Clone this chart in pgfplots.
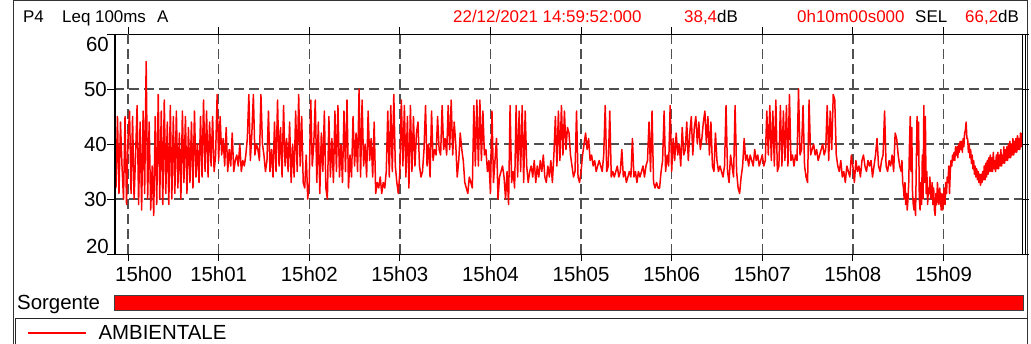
\documentclass[border=0pt]{standalone}
\usepackage{pgfplots}
\pgfplotsset{compat=1.18}
\usepackage{fontspec}
\setmainfont{Liberation Sans}
\definecolor{trace}{RGB}{255,0,0}
\definecolor{gridgray}{RGB}{80,80,80}
\newcommand{\hdr}{\fontsize{17}{20}\selectfont}
\newcommand{\lbl}{\fontsize{20.5}{24}\selectfont}
\begin{document}
\begin{tikzpicture}
\useasboundingbox (0,0) rectangle (1031bp,344bp);
% outer frame
\draw[line width=1bp, black!80] (13.5bp,-3bp) -- (13.5bp,343.5bp) -- (1027.5bp,343.5bp) -- (1027.5bp,-3bp);
% header line
\node[anchor=base west, inner sep=0] at (23bp,321bp) {\hdr P4};
\node[anchor=base west, inner sep=0] at (62bp,321bp) {\hdr Leq 100ms};
\node[anchor=base west, inner sep=0] at (157bp,321bp) {\hdr A};
\node[anchor=base west, inner sep=0, text=trace] at (453bp,321bp) {\hdr 22/12/2021 14:59:52:000};
\node[anchor=base west, inner sep=0] at (684bp,321bp) {\hdr\textcolor{trace}{38,4}dB};
\node[anchor=base west, inner sep=0, text=trace] at (797bp,321bp) {\hdr 0h10m00s000};
\node[anchor=base west, inner sep=0] at (915bp,321bp) {\hdr SEL};
\node[anchor=base west, inner sep=0] at (965bp,321bp) {\hdr\textcolor{trace}{66,2}dB};
\begin{axis}[
  at={(114bp,90bp)}, anchor=south west,
  scale only axis, width=908bp, height=220bp,
  xmin=-1.3, xmax=600, ymin=20, ymax=60,
  xtick={68,128,188,248,308,368,428,488,548},
  xticklabels={15h01,15h02,15h03,15h04,15h05,15h06,15h07,15h08,15h09},
  extra x ticks={8}, extra x tick labels={15h00},
  extra x tick style={grid=major, xticklabel style={xshift=15.5bp}},
  ytick={30,40,50},
  extra y ticks={20,60}, extra y tick labels={},
  extra y tick style={grid=none},
  grid=major,
  major grid style={gridgray, dash pattern=on 10bp off 5bp, line width=1.3bp},
  tick align=outside, major tick length=7bp,
  tick style={black, line width=1bp},
  axis line style={black, line width=1bp},
  tick label style={font=\lbl},
  xticklabel style={inner sep=0pt, anchor=base, yshift=-20bp},
  yticklabel style={inner sep=0pt},
  /pgf/number format/assume math mode=true,
  legend style={at={(-0.0958,-0.3591)}, anchor=west, draw=none, fill=none,
    inner sep=0pt, nodes={inner sep=0pt}, font=\lbl,
    /tikz/every odd column/.append style={column sep=12bp}},
  legend cell align=left,
  legend image code/.code={\draw[trace, line width=1.3bp] (0bp,0bp) -- (58bp,0bp);},
]
\addplot[trace, line width=1.5bp, line join=round] coordinates {
(0,32)(1,45)(2,31)(3,44)(4,36)(5,30)(6,45)(7,29)(8,41)(9,46)
(10,31)(11,45)(12,30)(13,38)(14,47)(15,29)(16,44)(17,28)(18,46)(19,31)
(20,55)(21,30)(22,44)(23,28)(24,36)(25,27)(26,45)(27,29)(28,49)(29,30)
(30,46)(31,29)(32,48)(33,31)(34,44)(35,29)(36,47)(37,30)(38,45)(39,31)
(40,46)(41,32)(42,42)(43,30)(44,46)(45,33)(46,45)(47,31)(48,43)(49,33)
(50,44)(51,32)(52,46)(53,34)(54,40)(55,33)(56,45)(57,34)(58,48)(59,35)
(60,46)(61,34)(62,44)(63,36)(64,45)(65,35)(66,38)(67,49)(68,37)(69,45)
(70,38)(71,41)(72,36)(73,43)(74,35)(75,39)(76,36)(77,42)(78,35)(79,37)
(80,38)(81,36)(82,40)(83,35)(84,37)(85,36)(86,38)(87,41)(88,49)(89,37)
(90,42)(91,49)(92,38)(93,40)(94,39)(95,37)(96,49)(97,40)(98,38)(99,35)
(100,37)(101,46)(102,35)(103,39)(104,34)(105,44)(106,35)(107,48)(108,36)(109,43)
(110,34)(111,47)(112,36)(113,41)(114,35)(115,44)(116,33)(117,40)(118,34)(119,46)
(120,35)(121,49)(122,36)(123,45)(124,33)(125,32)(126,38)(127,30)(128,33)(129,48)
(130,36)(131,40)(132,48)(133,33)(134,44)(135,31)(136,42)(137,35)(138,46)(139,32)
(140,30)(141,45)(142,34)(143,41)(144,33)(145,46)(146,35)(147,47)(148,34)(149,40)
(150,33)(151,46)(152,35)(153,48)(154,32)(155,38)(156,34)(157,45)(158,36)(159,42)
(160,35)(161,50)(162,34)(163,48)(164,36)(165,40)(166,34)(167,46)(168,37)(169,41)
(170,34)(171,44)(172,31)(173,33)(174,32)(175,34)(176,31)(177,33)(178,32)(179,35)
(180,46)(181,34)(182,47)(183,35)(184,49)(185,36)(186,33)(187,31)(188,35)(189,48)
(190,36)(191,47)(192,34)(193,45)(194,32)(195,47)(196,35)(197,45)(198,36)(199,42)
(200,44)(201,36)(202,34)(203,35)(204,39)(205,47)(206,36)(207,40)(208,34)(209,46)
(210,37)(211,39)(212,38)(213,45)(214,39)(215,38)(216,47)(217,39)(218,41)(219,38)
(220,47)(221,39)(222,48)(223,38)(224,44)(225,40)(226,34)(227,37)(228,42)(229,39)
(230,37)(231,33)(232,32)(233,31)(234,34)(235,33)(236,32)(237,47)(238,36)(239,48)
(240,36)(241,48)(242,37)(243,46)(244,38)(245,39)(246,35)(247,37)(248,31)(249,46)
(250,33)(251,37)(252,41)(253,30)(254,34)(255,35)(256,36)(257,34)(258,30)(259,35)
(260,29)(261,47)(262,33)(263,35)(264,32)(265,47)(266,34)(267,46)(268,35)(269,47)
(270,33)(271,46)(272,36)(273,33)(274,35)(275,36)(276,34)(277,37)(278,33)(279,36)
(280,34)(281,37)(282,35)(283,38)(284,34)(285,33)(286,36)(287,34)(288,37)(289,33)
(290,38)(291,45)(292,36)(293,46)(294,37)(295,47)(296,38)(297,46)(298,39)(299,43)
(300,42)(301,38)(302,36)(303,34)(304,35)(305,46)(306,34)(307,33)(308,35)(309,38)
(310,40)(311,42)(312,39)(313,41)(314,37)(315,38)(316,36)(317,37)(318,35)(319,36)
(320,37)(321,36)(322,35)(323,38)(324,47)(325,35)(326,36)(327,46)(328,34)(329,35)
(330,34)(331,35)(332,36)(333,34)(334,35)(335,39)(336,34)(337,35)(338,33)(339,34)
(340,35)(341,34)(342,41)(343,34)(344,35)(345,33)(346,35)(347,34)(348,35)(349,36)
(350,34)(351,36)(352,37)(353,44)(354,35)(355,46)(356,33)(357,32)(358,33)(359,32)
(360,32)(361,35)(362,37)(363,46)(364,35)(365,38)(366,36)(367,47)(368,35)(369,41)
(370,37)(371,42)(372,38)(373,40)(374,36)(375,43)(376,38)(377,39)(378,44)(379,37)
(380,42)(381,45)(382,38)(383,43)(384,45)(385,40)(386,44)(387,39)(388,41)(389,44)
(390,46)(391,40)(392,45)(393,38)(394,44)(395,36)(396,35)(397,42)(398,37)(399,35)
(400,36)(401,35)(402,34)(403,36)(404,47)(405,35)(406,33)(407,38)(408,36)(409,34)
(410,47)(411,35)(412,32)(413,31)(414,34)(415,36)(416,41)(417,37)(418,38)(419,36)
(420,38)(421,37)(422,36)(423,39)(424,37)(425,38)(426,36)(427,37)(428,38)(429,36)
(430,37)(431,46)(432,38)(433,47)(434,37)(435,46)(436,36)(437,48)(438,35)(439,36)
(440,47)(441,36)(442,46)(443,37)(444,47)(445,36)(446,49)(447,37)(448,38)(449,36)
(450,38)(451,37)(452,50)(453,38)(454,39)(455,47)(456,36)(457,34)(458,33)(459,48)
(460,38)(461,39)(462,40)(463,38)(464,39)(465,37)(466,38)(467,39)(468,40)(469,38)
(470,39)(471,47)(472,37)(473,46)(474,39)(475,49)(476,48)(477,38)(478,36)(479,35)
(480,37)(481,34)(482,35)(483,33)(484,36)(485,35)(486,34)(487,38)(488,36)(489,33)
(490,37)(491,35)(492,36)(493,34)(494,37)(495,38)(496,36)(497,35)(498,37)(499,36)
(500,37)(501,34)(502,36)(503,38)(504,41)(505,36)(506,35)(507,37)(508,38)(509,46)
(510,36)(511,35)(512,37)(513,36)(514,38)(515,35)(516,42)(517,41)(518,38)(519,36)
(520,35)(520.5,37)(521,33)(521.5,32)(522,30)(522.5,33)(523,29)(523.5,31)(524,28)(524.5,30)
(525,33)(525.5,40)(526,45)(526.5,35)(527,43)(527.5,31)(528,29)(528.5,28)(529,30)(529.5,27)
(530,36)(530.5,45)(531,38)(531.5,44)(532,30)(532.5,28)(533,33)(533.5,29)(534,38)(534.5,30)
(535,47)(535.5,33)(536,45)(536.5,31)(537,35)(537.5,29)(538,32)(538.5,31)(539,34)(539.5,30)
(540,31)(540.5,33)(541,29)(541.5,32)(542,28)(542.5,27)(543,31)(543.5,29)(544,33)(544.5,30)
(545,29)(545.5,32)(546,30)(546.5,28)(547,31)(547.5,28)(548,30)(548.5,32)(549,29)(549.5,33)
(550,31)(550.5,34)(551,33)(551.5,36)(552,31)(552.5,35)(553,37)(553.5,36)(554,38)(554.5,37)
(555,38.5)(555.5,37)(556,39.5)(556.5,38)(557,39.5)(557.5,37.5)(558,40)(558.5,38.5)(559,40.5)(559.5,39)
(560,40.5)(560.5,38.5)(561,41)(561.5,39.5)(562,42)(562.5,42.5)(563,44)(563.5,41)(564,41)(564.5,38.5)
(565,40)(565.5,37.5)(566,39)(566.5,36.5)(567,38)(567.5,35.5)(568,37)(568.5,34.5)(569,36)(569.5,34)
(570,35.5)(570.5,33.5)(571,35)(571.5,33)(572,34.5)(572.5,32.5)(573,34.5)(573.5,33)(574,35)(574.5,33.5)
(575,36)(575.5,33.5)(576,36.5)(576.5,34)(577,37)(577.5,34.5)(578,37.5)(578.5,35)(579,38)(579.5,35)
(580,37.5)(580.5,35)(581,38.5)(581.5,35.5)(582,37)(582.5,35)(583,38)(583.5,35.5)(584,38.5)(584.5,35.5)
(585,38)(585.5,36)(586,39)(586.5,36)(587,38)(587.5,36.5)(588,39.5)(588.5,36.5)(589,39)(589.5,37)
(590,39.5)(590.5,37)(591,40)(591.5,37.5)(592,40.5)(592.5,37.5)(593,40)(593.5,38)(594,41)(594.5,38)
(595,40.5)(595.5,38.5)(596,41)(596.5,38.5)(597,41.5)(597.5,39)(598,41)(598.5,39)(599,42)(599.5,39.5)
(600,42)
};
\addlegendentry{AMBIENTALE}
\end{axis}
% labels of the boundary ticks, kept inside the axis height
\node[anchor=south east, inner sep=0, font=\lbl] at (109bp,90bp) {20};
\node[anchor=north east, inner sep=0, font=\lbl] at (109bp,307bp) {60};
% cursor lines at both ends of the record
\draw[line width=2.5bp] (115bp,90bp) -- (115bp,310bp);
\draw[line width=1bp] (1025bp,90bp) -- (1025bp,310bp);
% source band
\node[anchor=base west, inner sep=0, font=\lbl] at (17bp,35bp) {Sorgente};
\draw[line width=0.8bp, black!75, fill=trace] (114.5bp,34bp) rectangle (1023bp,49bp);
% legend frame
\draw[line width=1bp, black!85] (15bp,-3bp) -- (15bp,25bp) -- (1027.5bp,25bp);
\end{tikzpicture}
\end{document}
